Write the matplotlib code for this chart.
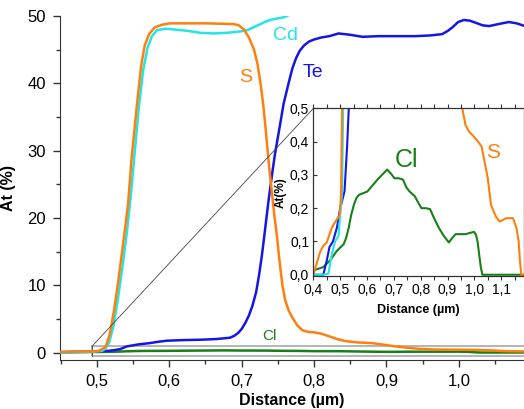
import matplotlib
matplotlib.use("Agg")
import matplotlib.pyplot as plt
from matplotlib.patches import Rectangle, ConnectionPatch
from matplotlib.ticker import FuncFormatter, MultipleLocator

plt.rcParams["font.family"] = ["Liberation Sans", "DejaVu Sans"]

# depth profiles (distance in µm, At %)
cd_x = [0.40, 0.437, 0.456, 0.469, 0.481, 0.494, 0.50, 0.507, 0.511, 0.517, 0.523, 0.529,
        0.535, 0.541, 0.547, 0.552, 0.558, 0.564, 0.57, 0.576, 0.583, 0.595, 0.606, 0.624,
        0.643, 0.66, 0.68, 0.698, 0.708, 0.716, 0.724, 0.732, 0.739, 0.748, 0.758, 0.775]
cd_y = [0.0, 0.0, 0.003, 0.063, 0.10, 0.117, 0.18, 0.24, 0.5, 1.5, 4.0, 8.0,
        12.5, 17.5, 23.5, 29.5, 36.5, 42.0, 45.3, 47.0, 47.9, 48.1, 48.0, 47.8,
        47.5, 47.4, 47.5, 47.7, 47.9, 48.3, 48.7, 49.1, 49.4, 49.6, 49.8, 50.6]

s_x = [0.40, 0.412, 0.425, 0.437, 0.45, 0.469, 0.488, 0.498, 0.503, 0.507, 0.512, 0.518,
       0.524, 0.53, 0.536, 0.543, 0.548, 0.555, 0.561, 0.566, 0.572, 0.58, 0.59, 0.601,
       0.65, 0.689, 0.696, 0.703, 0.71, 0.717, 0.722, 0.726, 0.729, 0.732, 0.735, 0.738,
       0.742, 0.745, 0.749, 0.752, 0.756, 0.76, 0.765, 0.77, 0.777, 0.784, 0.792, 0.80,
       0.81, 0.821, 0.832, 0.843, 0.86, 0.88, 0.897, 0.913, 0.93, 0.945, 0.955, 0.967,
       0.98, 0.993, 1.018, 1.027, 1.038, 1.05, 1.062, 1.08, 1.094, 1.107, 1.119, 1.144,
       1.157, 1.165, 1.17, 1.175, 1.19]
s_y = [0.0, 0.033, 0.068, 0.087, 0.097, 0.142, 0.167, 0.18, 0.24, 0.5, 0.8, 2.8,
       6.5, 11.0, 16.0, 22.0, 29.0, 36.5, 42.5, 45.6, 47.3, 48.3, 48.7, 48.9,
       48.9, 48.8, 48.6, 48.0, 46.8, 45.0, 42.8, 40.0, 37.5, 34.5, 31.0, 27.5,
       23.5, 20.5, 17.0, 13.8, 10.2, 7.8, 6.2, 5.2, 4.0, 3.3, 3.05, 3.0,
       2.8, 2.4, 2.0, 1.7, 1.5, 1.4, 1.15, 0.9, 0.7, 0.55, 0.5, 0.45,
       0.43, 0.42, 0.396, 0.385, 0.34, 0.29, 0.21, 0.175, 0.16, 0.165, 0.17, 0.17,
       0.14, 0.1, 0.04, 0.0, 0.0]

te_x = [0.40, 0.437, 0.45, 0.46, 0.473, 0.488, 0.50, 0.516, 0.519, 0.526, 0.532, 0.541,
        0.557, 0.573, 0.585, 0.596, 0.62, 0.643, 0.665, 0.684, 0.69, 0.695, 0.70, 0.705,
        0.71, 0.715, 0.72, 0.724, 0.728, 0.732, 0.737, 0.742, 0.746, 0.751, 0.758, 0.765,
        0.77, 0.775, 0.78, 0.786, 0.793, 0.80, 0.81, 0.821, 0.834, 0.85, 0.867, 0.89,
        0.913, 0.94, 0.96, 0.977, 0.985, 0.991, 0.999, 1.007, 1.015, 1.023, 1.033, 1.042,
        1.055, 1.069, 1.08, 1.091]
te_y = [0.0, 0.0, 0.043, 0.083, 0.10, 0.142, 0.2, 0.25, 0.29, 0.39, 0.5, 0.9,
        1.2, 1.4, 1.6, 1.75, 1.85, 1.9, 2.0, 2.2, 2.5, 2.9, 3.5, 4.4,
        5.5, 7.0, 9.0, 11.5, 14.5, 18.0, 22.5, 26.5, 29.5, 32.6, 37.0, 40.1,
        42.2, 43.7, 44.8, 45.6, 46.2, 46.5, 46.8, 47.0, 47.4, 47.2, 46.9, 47.0,
        47.0, 47.0, 47.1, 47.3, 47.8, 48.3, 49.1, 49.4, 49.3, 49.0, 48.6, 48.5,
        48.8, 49.1, 48.9, 48.5]

cl_x = [0.40, 0.437, 0.462, 0.488, 0.513, 0.522, 0.532, 0.541, 0.551, 0.56, 0.57, 0.585,
        0.601, 0.62, 0.639, 0.658, 0.675, 0.688, 0.702, 0.718, 0.734, 0.747, 0.759, 0.778,
        0.79, 0.803, 0.82, 0.835, 0.85, 0.867, 0.885, 0.905, 0.915, 0.93, 0.95, 0.967,
        0.985, 0.999, 1.006, 1.012, 1.018, 1.024, 1.03, 1.19]
cl_y = [0.013, 0.023, 0.043, 0.072, 0.092, 0.11, 0.142, 0.18, 0.21, 0.23, 0.24, 0.245,
        0.25, 0.268, 0.286, 0.302, 0.316, 0.305, 0.29, 0.29, 0.286, 0.262, 0.25, 0.236,
        0.218, 0.2, 0.2, 0.197, 0.17, 0.142, 0.118, 0.097, 0.108, 0.122, 0.122, 0.122,
        0.126, 0.129, 0.12, 0.10, 0.06, 0.023, 0.0, 0.0]

COL_CD = "#22e5e5"
COL_S = "#ff7f0e"
COL_TE = "#1515e6"
COL_CL = "#178017"


def comma(fmt):
    return FuncFormatter(lambda v, p: fmt.format(v).replace(".", ","))


fig = plt.figure(figsize=(5.24, 4.09), dpi=100)
ax = fig.add_axes([0.1145, 0.12, 0.8855, 0.841])

ax.plot(cl_x, cl_y, color=COL_CL, lw=1.8, zorder=3)
ax.plot(te_x, te_y, color=COL_TE, lw=1.8, zorder=3)
ax.plot(cd_x, cd_y, color=COL_CD, lw=1.8, zorder=3)
ax.plot(s_x, s_y, color=COL_S, lw=1.8, zorder=4)

ax.set_xlim(0.449, 1.09)
ax.set_ylim(-1.1, 50)
ax.xaxis.set_major_locator(MultipleLocator(0.1))
ax.xaxis.set_minor_locator(MultipleLocator(0.05))
ax.yaxis.set_major_locator(MultipleLocator(10))
ax.yaxis.set_minor_locator(MultipleLocator(5))
ax.xaxis.set_major_formatter(comma("{:.1f}"))
ax.yaxis.set_major_formatter(comma("{:.0f}"))
ax.tick_params(which="major", length=5, width=1, labelsize=12, pad=5, color="#333333")
ax.tick_params(which="minor", length=3, width=1, color="#333333")
for side in ("top", "right"):
    ax.spines[side].set_visible(False)
for side in ("left", "bottom"):
    ax.spines[side].set_color("#333333")
ax.set_xlabel("Distance (µm)", fontsize=11.5, fontweight="bold", labelpad=3)
ax.set_ylabel("At (%)", fontsize=11.5, fontweight="bold", labelpad=8)

ax.text(0.76, 47.1, "Cd", color=COL_CD, fontsize=14, ha="center", va="center")
ax.text(0.705, 40.9, "S", color=COL_S, fontsize=14, ha="center", va="center")
ax.text(0.799, 41.6, "Te", color=COL_TE, fontsize=14, ha="center", va="center")
ax.text(0.739, 2.4, "Cl", color=COL_CL, fontsize=11, ha="center", va="center")

# zoom box
ax.add_patch(Rectangle((0.493, -0.45), 0.7, 1.35, fill=False, edgecolor="#b4b4b4",
                       lw=1.4, zorder=2, clip_on=True))
ax.plot([0.493, 0.493], [-0.45, 0.9], color="#555555", lw=0.7, zorder=2)

# inset
ins = fig.add_axes([0.598, 0.325, 0.402, 0.41])
ins.plot(cl_x, cl_y, color=COL_CL, lw=1.5)
ins.plot(te_x, te_y, color=COL_TE, lw=1.5)
ins.plot(cd_x, cd_y, color=COL_CD, lw=1.5)
ins.plot(s_x, s_y, color=COL_S, lw=1.5)
ins.set_xlim(0.4, 1.185)
ins.set_ylim(-0.004, 0.5)
ins.xaxis.set_major_locator(MultipleLocator(0.1))
ins.xaxis.set_minor_locator(MultipleLocator(0.05))
ins.yaxis.set_major_locator(MultipleLocator(0.1))
ins.xaxis.set_major_formatter(comma("{:.1f}"))
ins.yaxis.set_major_formatter(comma("{:.1f}"))
ins.tick_params(axis="x", which="both", top=True, length=3, width=0.8, labelsize=10, pad=2,
                color="#333333")
ins.tick_params(axis="y", which="both", direction="in", length=3, width=0.8, labelsize=10,
                pad=3, color="#333333")
ins.tick_params(axis="x", which="both", labeltop=False)
for side in ins.spines.values():
    side.set_color("#333333")
    side.set_linewidth(0.9)
ins.set_xlabel("Distance (µm)", fontsize=9, fontweight="bold", labelpad=5)
ins.set_ylabel("At(%)", fontsize=8.5, fontweight="bold", labelpad=2)
ins.text(0.747, 0.346, "Cl", color=COL_CL, fontsize=18, ha="center", va="center")
ins.text(1.068, 0.367, "S", color=COL_S, fontsize=15, ha="center", va="center")

con = ConnectionPatch(xyA=(0.493, 0.9), coordsA=ax.transData, xyB=(0.0, 1.0),
                      coordsB=ins.transAxes, color="#444444", lw=0.6)
fig.add_artist(con)

fig.savefig("out.png", dpi=100)
